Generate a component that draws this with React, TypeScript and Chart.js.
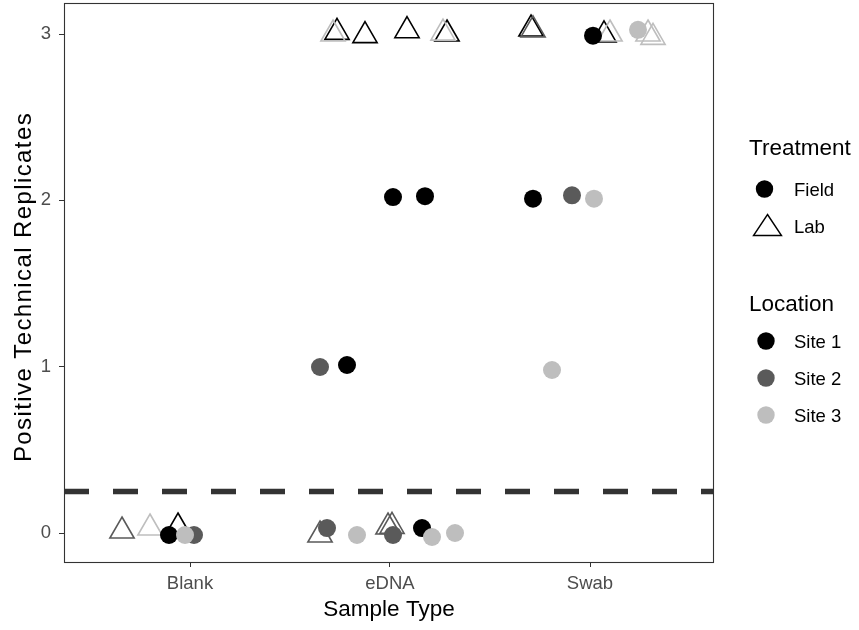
import React, { useEffect, useRef } from "react";
import { Chart, registerables } from "chart.js";

Chart.register(...registerables);

// ---- data ----
const categories = ["Blank", "eDNA", "Swab"];
const categoryPositions = [1, 2, 3];
const yTickValues = [0, 1, 2, 3];
const thresholdValue = 0.25;

// jittered x positions (category index + jitter) and y values
const fieldSite1X = [0.895, 2.16, 1.785, 2.015, 2.175, 2.715, 3.015];
const fieldSite1Y = [-0.012, 0.03, 1.01, 2.02, 2.025, 2.01, 2.99];
const fieldSite2X = [1.02, 1.685, 2.015, 1.65, 2.91];
const fieldSite2Y = [-0.012, 0.03, -0.012, 0.998, 2.03];
const fieldSite3X = [0.975, 1.835, 2.21, 2.325, 3.02, 2.81, 3.24];
const fieldSite3Y = [-0.012, -0.012, -0.024, 0.0, 2.01, 0.98, 3.025];
const labSite1X = [0.94, 1.735, 1.875, 2.085, 2.285, 2.705, 3.07];
const labSite1Y = [0.036, 3.01, 2.99, 3.02, 3.0, 3.03, 2.995];
const labSite2X = [0.66, 1.65, 1.99, 2.01, 2.715];
const labSite2Y = [0.012, -0.012, 0.036, 0.04, 3.025];
const labSite3X = [0.8, 1.715, 2.265, 3.1, 3.29, 3.315];
const labSite3Y = [0.03, 3.0, 3.005, 3.0, 3.0, 2.98];

const siteNames = ["Site 1", "Site 2", "Site 3"];
const siteColors = ["#000000", "#5a5a5a", "#bebebe"];
const treatmentNames = ["Field", "Lab"];
const xTitle = "Sample Type";
const yTitle = "Positive Technical Replicates";

const X_MIN = 0.37;
const X_MAX = 3.62;
const Y_MIN = -0.1743;
const Y_MAX = 3.1864;

const FONT = "'Liberation Sans', Arial, sans-serif";

const toPoints = (xs: number[], ys: number[]) => xs.map((x, i) => ({ x, y: ys[i] }));
const zeroPadding = () => ({ left: 0, top: 0, right: 0, bottom: 0 });

const decorPlugin = {
  id: "decor",
  afterDatasetsDraw(chart: any) {
    const { ctx, chartArea } = chart;
    ctx.save();
    ctx.strokeStyle = "#333333";
    ctx.lineWidth = 1.1;
    ctx.strokeRect(
      Math.round(chartArea.left) + 0.5,
      Math.round(chartArea.top) + 0.5,
      Math.round(chartArea.right - chartArea.left) - 1,
      Math.round(chartArea.bottom - chartArea.top)
    );
    ctx.restore();
  },
  afterDraw(chart: any) {
    const { ctx } = chart;
    ctx.save();
    // y axis title
    ctx.save();
    ctx.translate(24, 287);
    ctx.rotate(-Math.PI / 2);
    ctx.textAlign = "center";
    ctx.textBaseline = "middle";
    ctx.fillStyle = "#000000";
    ctx.font = `24px ${FONT}`;
    (ctx as any).letterSpacing = "1.4px";
    ctx.fillText(yTitle, 0, 0);
    (ctx as any).letterSpacing = "0px";
    ctx.restore();

    ctx.textBaseline = "middle";
    ctx.textAlign = "left";
    // Treatment
    ctx.fillStyle = "#000000";
    ctx.font = `22.5px ${FONT}`;
    ctx.fillText("Treatment", 749, 149);
    ctx.font = `18.5px ${FONT}`;
    // Field: filled circle
    ctx.beginPath();
    ctx.arc(764.5, 189, 8.7, 0, Math.PI * 2);
    ctx.fillStyle = "#000000";
    ctx.fill();
    ctx.fillText(treatmentNames[0], 794, 191);
    // Lab: open triangle
    ctx.beginPath();
    ctx.moveTo(767.5, 214.5);
    ctx.lineTo(781.5, 235.5);
    ctx.lineTo(753.5, 235.5);
    ctx.closePath();
    ctx.strokeStyle = "#000000";
    ctx.lineWidth = 1.4;
    ctx.stroke();
    ctx.fillText(treatmentNames[1], 794, 228);
    // Location
    ctx.font = `22.5px ${FONT}`;
    ctx.fillText("Location", 749, 305);
    ctx.font = `18.5px ${FONT}`;
    const ys = [341, 378, 415];
    siteNames.forEach((name, i) => {
      ctx.beginPath();
      ctx.arc(766, ys[i], 8.7, 0, Math.PI * 2);
      ctx.fillStyle = siteColors[i];
      ctx.fill();
      ctx.fillStyle = "#000000";
      ctx.fillText(name, 794, ys[i] + 2);
    });
    ctx.restore();
  },
};

export default function App() {
  const canvasRef = useRef<HTMLCanvasElement | null>(null);

  useEffect(() => {
    if (!canvasRef.current) return;
    const fieldSets = [
      { xs: fieldSite1X, ys: fieldSite1Y, c: 0 },
      { xs: fieldSite2X, ys: fieldSite2Y, c: 1 },
      { xs: fieldSite3X, ys: fieldSite3Y, c: 2 },
    ];
    const labSets = [
      { xs: labSite1X, ys: labSite1Y, c: 0 },
      { xs: labSite2X, ys: labSite2Y, c: 1 },
      { xs: labSite3X, ys: labSite3Y, c: 2 },
    ];
    // dataset 0 is drawn on top in Chart.js -> list topmost first
    const datasets: any[] = [];
    [...fieldSets].reverse().forEach((s) => {
      datasets.push({
        type: "scatter",
        label: `Field ${siteNames[s.c]}`,
        data: toPoints(s.xs, s.ys),
        pointStyle: "circle",
        pointRadius: 9,
        pointHoverRadius: 9,
        backgroundColor: siteColors[s.c],
        borderColor: siteColors[s.c],
        borderWidth: 0,
      });
    });
    [...labSets].reverse().forEach((s) => {
      datasets.push({
        type: "scatter",
        label: `Lab ${siteNames[s.c]}`,
        data: toPoints(s.xs, s.ys),
        pointStyle: "triangle",
        pointRadius: 14,
        pointHoverRadius: 14,
        backgroundColor: "rgba(0,0,0,0)",
        borderColor: siteColors[s.c],
        borderWidth: 1.6,
      });
    });
    datasets.push({
      type: "line",
      label: "threshold",
      data: [
        { x: X_MIN, y: thresholdValue },
        { x: X_MAX, y: thresholdValue },
      ],
      borderColor: "#333333",
      borderWidth: 5.5,
      borderDash: [25, 24],
      pointRadius: 0,
      fill: false,
    });

    const chart = new Chart(canvasRef.current, {
      type: "scatter",
      data: { datasets },
      options: {
        animation: false,
        responsive: false,
        devicePixelRatio: 1,
        events: [],
        layout: { autoPadding: false, padding: { top: 3, right: 145, left: 0, bottom: 0 } },
        plugins: { legend: { display: false }, tooltip: { enabled: false } },
        scales: {
          x: {
            type: "linear",
            min: X_MIN,
            max: X_MAX,
            afterBuildTicks: (scale: any) => {
              scale.ticks = categoryPositions.map((v) => ({ value: v }));
            },
            afterFit: (scale: any) => {
              scale.height = 68;
              scale.paddingLeft = 0;
              scale.paddingRight = 0;
              scale.paddingTop = 0;
              scale.paddingBottom = 0;
              scale.getPadding = zeroPadding;
            },
            ticks: {
              callback: (v: any) => {
                const idx = categoryPositions.indexOf(Number(v));
                return idx >= 0 ? categories[idx] : "";
              },
              color: "#4d4d4d",
              font: { family: FONT, size: 18.5 },
              padding: 6,
              maxRotation: 0,
              autoSkip: false,
            },
            grid: {
              drawOnChartArea: false,
              drawTicks: true,
              tickLength: 5,
              color: "#333333",
              lineWidth: 1,
            },
            border: { display: false },
            title: {
              display: true,
              text: xTitle,
              color: "#000000",
              font: { family: FONT, size: 22.5 },
              padding: { top: 0, bottom: 7 },
            },
          },
          y: {
            type: "linear",
            min: Y_MIN,
            max: Y_MAX,
            afterBuildTicks: (scale: any) => {
              scale.ticks = yTickValues.map((v) => ({ value: v }));
            },
            afterFit: (scale: any) => {
              scale.width = 64;
              scale.paddingLeft = 0;
              scale.paddingRight = 0;
              scale.paddingTop = 0;
              scale.paddingBottom = 0;
              scale.getPadding = zeroPadding;
            },
            ticks: {
              callback: (v: any) => String(v),
              color: "#4d4d4d",
              font: { family: FONT, size: 18.5 },
              padding: 8,
            },
            grid: {
              drawOnChartArea: false,
              drawTicks: true,
              tickLength: 5,
              color: "#333333",
              lineWidth: 1,
            },
            border: { display: false },
            title: { display: false },
          },
        },
      },
      plugins: [decorPlugin],
    } as any);
    return () => chart.destroy();
  }, []);

  return (
    <div style={{ position: "absolute", left: 0, top: 0, width: 859, height: 630, background: "#ffffff" }}>
      <canvas ref={canvasRef} width={859} height={630} style={{ display: "block", width: 859, height: 630 }} />
    </div>
  );
}
